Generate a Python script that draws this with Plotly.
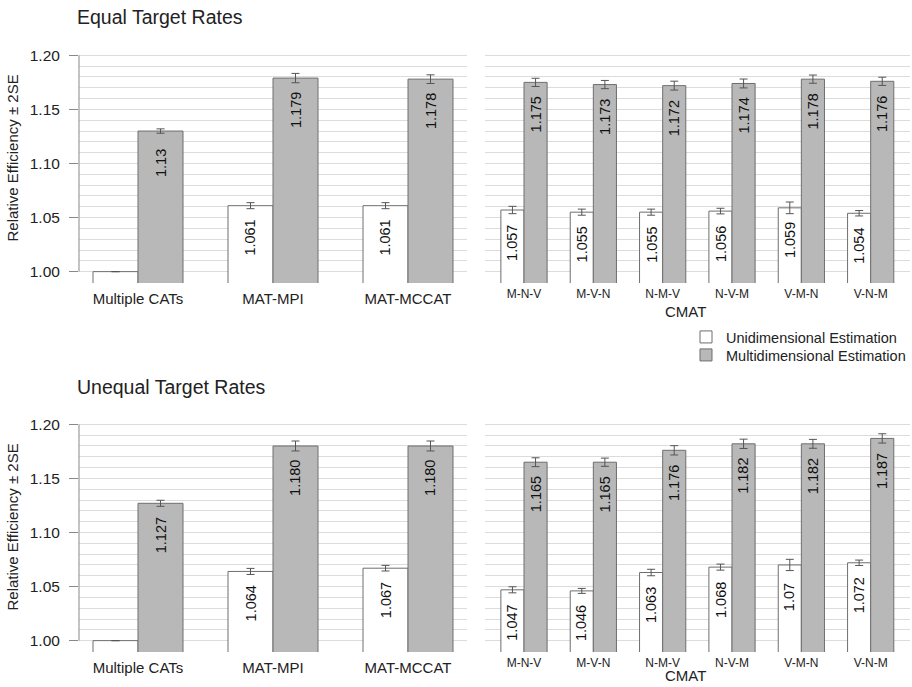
import plotly.graph_objects as go

# ---------------- data ----------------
cats_left = ["Multiple CATs", "MAT-MPI", "MAT-MCCAT"]
cats_right = ["M-N-V", "M-V-N", "N-M-V", "N-V-M", "V-M-N", "V-N-M"]

# Equal target rates
eq_left_uni = [1.000, 1.061, 1.061]
eq_left_multi = [1.130, 1.179, 1.178]
eq_left_uni_err = [None, 0.0028, 0.0028]
eq_left_multi_err = [0.0020, 0.0043, 0.0040]
eq_left_uni_lab = ["", "1.061", "1.061"]
eq_left_multi_lab = ["1.13", "1.179", "1.178"]

eq_right_uni = [1.057, 1.055, 1.055, 1.056, 1.059, 1.054]
eq_right_multi = [1.175, 1.173, 1.172, 1.174, 1.178, 1.176]
eq_right_uni_err = [0.0034, 0.0028, 0.0028, 0.0026, 0.0054, 0.0025]
eq_right_multi_err = [0.0038, 0.0038, 0.0041, 0.0041, 0.0038, 0.0038]
eq_right_uni_lab = ["1.057", "1.055", "1.055", "1.056", "1.059", "1.054"]
eq_right_multi_lab = ["1.175", "1.173", "1.172", "1.174", "1.178", "1.176"]

# Unequal target rates
un_left_uni = [1.000, 1.064, 1.067]
un_left_multi = [1.127, 1.180, 1.180]
un_left_uni_err = [None, 0.0028, 0.0026]
un_left_multi_err = [0.0028, 0.0046, 0.0046]
un_left_uni_lab = ["", "1.064", "1.067"]
un_left_multi_lab = ["1.127", "1.180", "1.180"]

un_right_uni = [1.047, 1.046, 1.063, 1.068, 1.070, 1.072]
un_right_multi = [1.165, 1.165, 1.176, 1.182, 1.182, 1.187]
un_right_uni_err = [0.0028, 0.0023, 0.0030, 0.0028, 0.0052, 0.0025]
un_right_multi_err = [0.0041, 0.0038, 0.0043, 0.0043, 0.0041, 0.0043]
un_right_uni_lab = ["1.047", "1.046", "1.063", "1.068", "1.07", "1.072"]
un_right_multi_lab = ["1.165", "1.165", "1.176", "1.182", "1.182", "1.187"]

series_names = ["Unidimensional Estimation", "Multidimensional Estimation"]
titles = ["Equal Target Rates", "Unequal Target Rates"]
y_title = "Relative Efficiency ± 2SE"
x_title_right = "CMAT"
y_tickvals = [1.00, 1.05, 1.10, 1.15, 1.20]

# ---------------- style ----------------
W, H = 912, 687
FONT = "Liberation Sans, Arial, sans-serif"
WHITE = "#ffffff"
GRAY = "#b8b8b8"
EDGE = "#6e6e6e"
ERR = "#555555"
GRID = "#dcdcdc"
BARGAP = 1 / 3
YRANGE = [0.9895, 1.2105]


def fx(p):
    return p / W


def fy(p):
    return 1 - p / H


panels = [
    ("", cats_left, eq_left_uni, eq_left_multi, eq_left_uni_err, eq_left_multi_err,
     eq_left_uni_lab, eq_left_multi_lab, (79, 467), (44, 283), [-0.437, 2.437], True),
    ("2", cats_right, eq_right_uni, eq_right_multi, eq_right_uni_err, eq_right_multi_err,
     eq_right_uni_lab, eq_right_multi_lab, (485, 910), (44, 283), [-0.5625, 5.567], False),
    ("3", cats_left, un_left_uni, un_left_multi, un_left_uni_err, un_left_multi_err,
     un_left_uni_lab, un_left_multi_lab, (79, 467), (413, 652), [-0.437, 2.437], True),
    ("4", cats_right, un_right_uni, un_right_multi, un_right_uni_err, un_right_multi_err,
     un_right_uni_lab, un_right_multi_lab, (485, 910), (413, 652), [-0.5625, 5.567], False),
]

legend_names = ["legend", "legend2"]

fig = go.Figure()
annotations = []
shapes = []
layout_axes = {}

for k, (aid, cats, uni, multi, uerr, merr, ulab, mlab, xd, yd, xr, left) in enumerate(panels):
    xref = "x" + aid
    yref = "y" + aid
    for j, (vals, errs, col) in enumerate([(uni, uerr, WHITE), (multi, merr, GRAY)]):
        fig.add_trace(go.Bar(
            x=cats, y=vals, name=series_names[j],
            marker=dict(color=col, line=dict(color=EDGE, width=1)),
            error_y=dict(type="data", array=errs, color=ERR, thickness=1, width=4, visible=True),
            xaxis=xref, yaxis=yref,
            showlegend=(k == 0), legend=legend_names[j],
            offsetgroup=str(j),
        ))
    half = (1 - BARGAP) / 4
    for i in range(len(cats)):
        for vals, labs, off in [(uni, ulab, -half), (multi, mlab, half)]:
            if labs[i]:
                annotations.append(dict(
                    x=i + off, y=vals[i] - 0.03, xref=xref, yref=yref,
                    text=labs[i], showarrow=False, textangle=-90,
                    xanchor="center", yanchor="middle",
                    font=dict(family=FONT, size=14.5, color="#111111"),
                ))
    xkey = "xaxis" + aid
    ykey = "yaxis" + aid
    layout_axes[xkey] = dict(
        domain=[fx(xd[0]), fx(xd[1])], anchor=yref, type="category",
        range=xr, showgrid=False, showline=False, zeroline=False,
        ticks="",
        tickfont=dict(family=FONT, size=15 if left else 12, color="#222222"),
        ticklabelstandoff=5 if left else 2,
        fixedrange=True,
    )
    layout_axes[ykey] = dict(
        domain=[fy(yd[1]), fy(yd[0])], anchor=xref, range=YRANGE,
        tickvals=y_tickvals, ticktext=[f"{v:.2f}" for v in y_tickvals],
        showgrid=True, gridcolor=GRID, gridwidth=1,
        minor=dict(dtick=0.01, tick0=0, showgrid=True, gridcolor=GRID, gridwidth=1),
        showline=False, zeroline=False,
        ticks="outside" if left else "", ticklen=9, tickcolor="#888888",
        showticklabels=left, ticklabelstandoff=6,
        tickfont=dict(family=FONT, size=15.5, color="#222222"),
        fixedrange=True,
    )
    if left:
        shapes.append(dict(type="line", xref=xref + " domain", yref=yref,
                           x0=0, x1=0, y0=y_tickvals[0], y1=y_tickvals[-1],
                           line=dict(color="#888888", width=1)))
        annotations.append(dict(
            x=fx(12), y=fy((yd[0] + yd[1]) / 2 - 5), xref="paper", yref="paper",
            text=y_title, showarrow=False, textangle=-90,
            xanchor="center", yanchor="middle",
            font=dict(family=FONT, size=15, color="#222222"),
        ))
    else:
        title_y = min(yd[1] + 28, H - 12)
        annotations.append(dict(
            x=fx(685), y=fy(title_y), xref="paper", yref="paper",
            text=x_title_right, showarrow=False,
            xanchor="center", yanchor="middle",
            font=dict(family=FONT, size=15, color="#222222"),
        ))

for r, t in enumerate(titles):
    annotations.append(dict(
        x=fx(75), y=fy(17 + r * 370), xref="paper", yref="paper",
        text=t, showarrow=False, xanchor="left", yanchor="middle",
        font=dict(family=FONT, size=19.5, color="#222222"),
    ))

legend_style = dict(xanchor="left", yanchor="top",
                    font=dict(family=FONT, size=14.5, color="#222222"),
                    bgcolor="rgba(0,0,0,0)", borderwidth=0)

fig.update_layout(
    width=W, height=H,
    margin=dict(l=0, r=0, t=0, b=0),
    paper_bgcolor="white", plot_bgcolor="white",
    barmode="group", bargap=BARGAP, bargroupgap=0,
    showlegend=True,
    legend=dict(x=fx(686), y=fy(321), **legend_style),
    legend2=dict(x=fx(686), y=fy(339), **legend_style),
    annotations=annotations, shapes=shapes,
    font=dict(family=FONT),
    **layout_axes,
)

fig.write_html("out.html")
